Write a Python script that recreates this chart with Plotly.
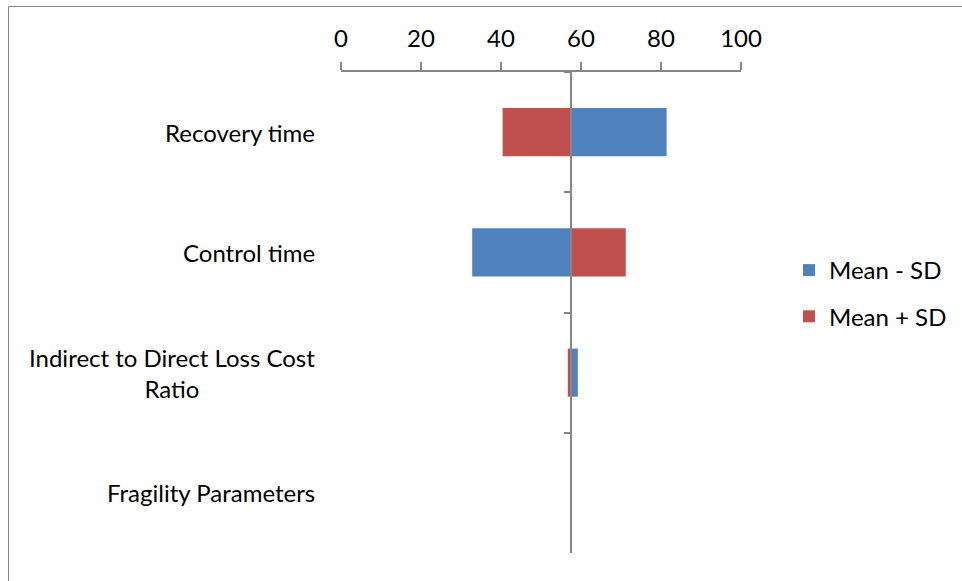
import plotly.graph_objects as go

# Tornado data: model output at the mean, and with each input at mean -/+ one SD
categories = ["Recovery time", "Control time",
              "Indirect to Direct Loss Cost<br>Ratio", "Fragility Parameters"]
baseline = 57.4
mean_minus_sd = [81.4, 32.8, 59.2, 57.4]
mean_plus_sd = [40.4, 71.2, 56.7, 57.4]
x_ticks = [0, 20, 40, 60, 80, 100]

BLUE = "#4F81BD"
RED = "#C0504D"
AXIS = "#868686"
FONT = dict(family="Lato, Carlito, Calibri, sans-serif", size=24, color="#000000")

W, H = 962, 581
L, R, T, B = 341, 221, 72, 28
plot_w = W - L - R
plot_h = H - T - B


def px_to_paper_x(px):
    return (px - L) / plot_w


def px_to_paper_y(py):
    return (H - B - py) / plot_h


fig = go.Figure()
fig.add_trace(go.Bar(
    y=categories, x=[v - baseline for v in mean_minus_sd], base=baseline,
    orientation="h", name="Mean - SD", marker=dict(color=BLUE, line=dict(width=0)),
    width=0.4, legendgroup="a",
))
fig.add_trace(go.Bar(
    y=categories, x=[v - baseline for v in mean_plus_sd], base=baseline,
    orientation="h", name="Mean + SD", marker=dict(color=RED, line=dict(width=0)),
    width=0.4, legendgroup="b",
))

# Category labels, right-aligned to the left of the plot, centered lines
for cat in categories:
    fig.add_annotation(
        x=px_to_paper_x(317), xref="paper", y=cat, yref="y",
        text=cat, showarrow=False, xanchor="right", align="center",
        font=FONT,
    )

# Chart area frame
fig.add_shape(type="rect", xref="paper", yref="paper",
              x0=px_to_paper_x(8.5), x1=px_to_paper_x(980),
              y0=px_to_paper_y(600), y1=px_to_paper_y(6.5),
              line=dict(color=AXIS, width=1), fillcolor="rgba(0,0,0,0)",
              layer="below")

cross_pos = baseline / (x_ticks[-1] - x_ticks[0])

fig.update_layout(
    width=W, height=H,
    margin=dict(l=L, r=R, t=T, b=B, autoexpand=False),
    paper_bgcolor="white", plot_bgcolor="white",
    barmode="overlay",
    font=FONT,
    showlegend=True,
    legend=dict(x=px_to_paper_x(789), y=px_to_paper_y(248), xanchor="left", yanchor="top",
                font=FONT, tracegroupgap=12, itemwidth=30, bgcolor="rgba(0,0,0,0)"),
    xaxis=dict(
        side="top", range=[x_ticks[0], x_ticks[-1]], tickvals=x_ticks,
        showline=True, linecolor=AXIS, linewidth=1.5,
        ticks="outside", ticklen=8, tickcolor=AXIS, tickwidth=1.5,
        ticklabelstandoff=6,
        showgrid=False, zeroline=False, fixedrange=True,
    ),
    yaxis=dict(
        type="category", categoryorder="array", categoryarray=categories,
        autorange="reversed", anchor="free", position=cross_pos,
        showline=True, linecolor=AXIS, linewidth=1.5,
        ticks="outside", ticklen=6, tickcolor=AXIS, tickwidth=1.5,
        tickson="boundaries", showticklabels=False,
        showgrid=False, zeroline=False, fixedrange=True,
    ),
)

fig.write_html("out.html")
